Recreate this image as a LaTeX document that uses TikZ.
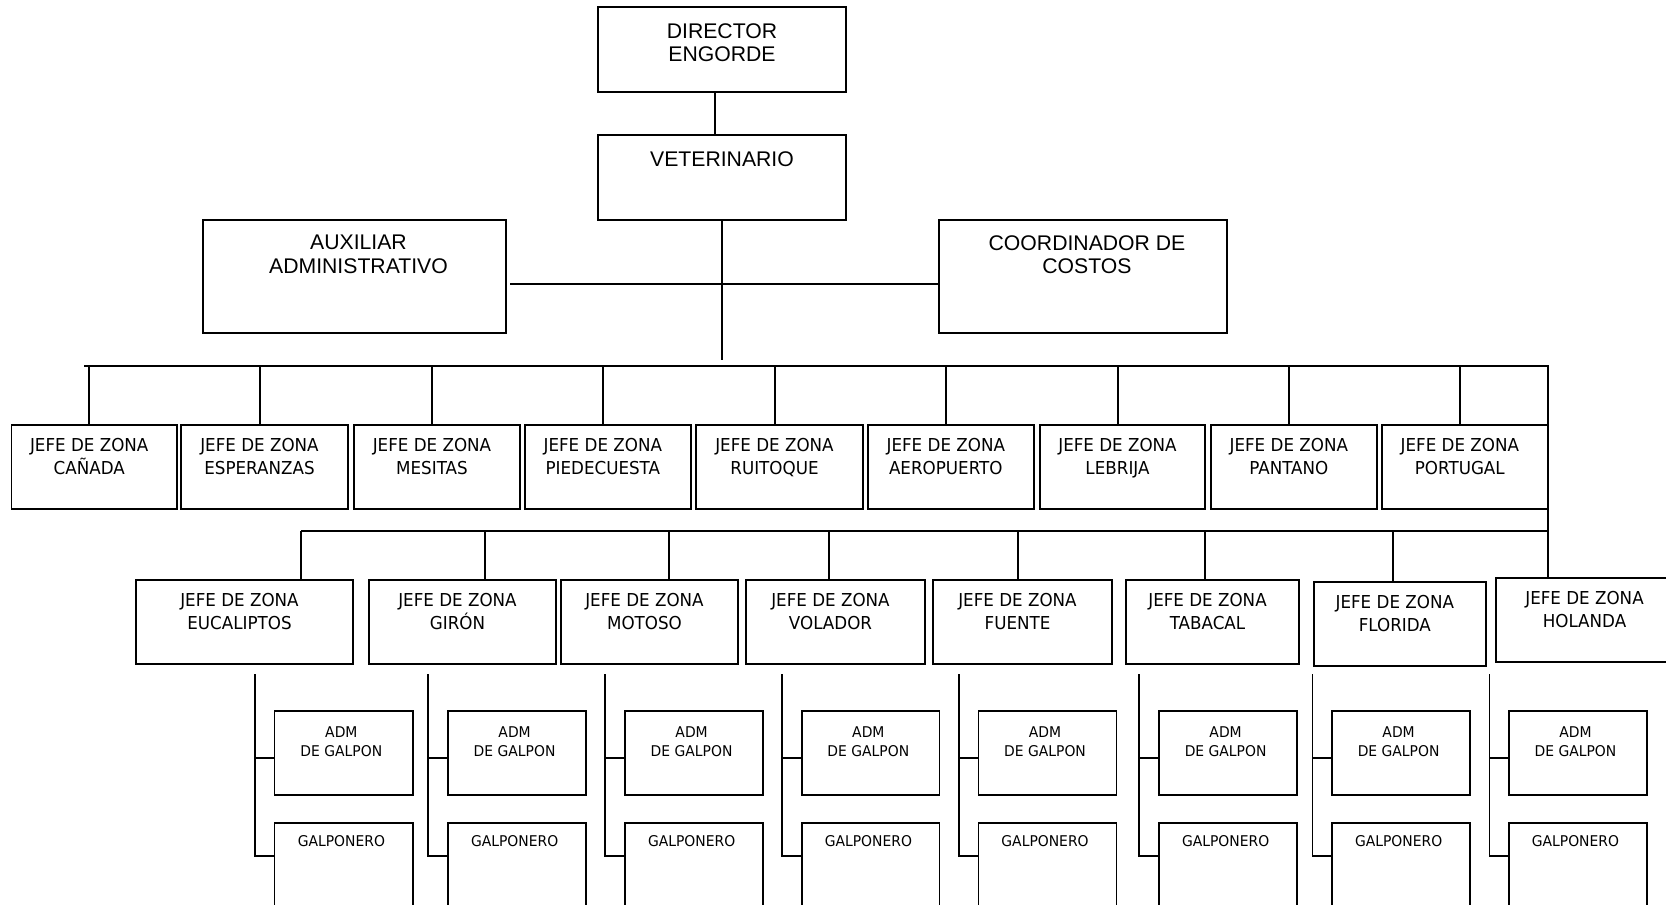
\documentclass[tikz,border=0pt]{standalone}
\usepackage{fontspec}
\setmainfont{Liberation Sans}
\newfontfamily\tahfont[FakeStretch=0.94]{DejaVu Sans}
\newcommand\obox[9]{%
  \node[boxst, minimum width={(#4-#2)*0.5pt}, minimum height={(#5-#3)*0.5pt}] (#1) at ({(#2+#4)/2},{(#3+#5)/2}) {};
  \node[#6, anchor=north] (#1-t) at ({(#2+#4)/2+#8},{#3+#7}) {#9};
}
\begin{document}
\begin{tikzpicture}[x=0.5pt,y=-0.5pt,
  boxst/.style={draw, rectangle, line width=0.9pt, inner sep=0pt, outer sep=0pt},
  connln/.style={line width=0.7pt},
  busln/.style={line width=1pt},
  topt/.style={font=\fontsize{10.6}{11.65}\selectfont, align=center, inner sep=0pt},
  jt/.style={font=\tahfont\fontsize{8.9}{11.35}\selectfont, align=center, inner sep=0pt},
  admt/.style={font=\tahfont\fontsize{7.4}{9.15}\selectfont, align=center, inner sep=0pt}]
\useasboundingbox (0,0) rectangle (1666,905);
\clip (0,0) rectangle (1666,905);
\fill[white] (0,0) rectangle (1666,905);

% top level
\obox{dir}{598}{7}{846}{92}{topt}{16}{0}{DIRECTOR\\ENGORDE}
\obox{vet}{598}{135}{846}{220}{topt}{16.5}{0}{VETERINARIO}
\obox{aux}{203}{220}{506}{333}{topt}{15}{4}{AUXILIAR\\ADMINISTRATIVO}
\obox{coord}{939}{220}{1227}{333}{topt}{15}{4}{COORDINADOR DE\\COSTOS}

\draw[connln] (dir.south -| 715,0) -- (vet.north -| 715,0);
\coordinate (vbot) at (722,360);
\draw[connln] (vet.south -| vbot) -- (vbot);
\coordinate (hl) at (510,284);
\draw[connln] (hl) -- (coord.west |- hl);

% row 1
\foreach \n/\a/\b/\t/\d in {1/11.5/177/CAÑADA/89, 2/181/348/ESPERANZAS/260, 3/354/520/MESITAS/432,
  4/525/690.6/PIEDECUESTA/603, 5/696/863/RUITOQUE/775, 6/868/1033.6/AEROPUERTO/946,
  7/1040/1205/LEBRIJA/1118, 8/1211/1376.6/PANTANO/1289, 9/1381.6/1548/PORTUGAL/1460}{
  \obox{j\n}{\a}{425}{\b}{509}{jt}{13.3}{-5}{JEFE DE ZONA\\\t}
  \draw[connln] (\d,366) -- (j\n.north -| \d,0);
}

% row 2
\foreach \n/\a/\b/\ya/\yb/\t/\d in {1/136/353/580/664/EUCALIPTOS/301, 2/369/556/580/664/GIRÓN/485,
  3/561/738/580/664/MOTOSO/669, 4/746/925/580/664/VOLADOR/829, 5/933/1112/580/664/FUENTE/1018,
  6/1126/1299/580/664/TABACAL/1205, 7/1313.6/1486/582/666/FLORIDA/1393}{
  \obox{k\n}{\a}{\ya}{\b}{\yb}{jt}{13.3}{-5}{JEFE DE ZONA\\\t}
  \draw[connln] (\d,531) -- (k\n.north -| \d,0);
}
\obox{hol}{1496}{577.7}{1683}{661.7}{jt}{13.3}{-5}{JEFE DE ZONA\\HOLANDA}

% buses
\coordinate (busL) at (84,366);
\coordinate (busR) at (1548,366);
\draw[busln] (busL) -- (busR) -- (hol.north -| busR);
\coordinate (bus2L) at (301,531);
\draw[busln] (bus2L) -- (bus2L -| busR);

% sub rows
\foreach \n/\v/\a/\b in {1/255/274.5/413, 2/428/448/586, 3/605/625/763, 4/782/802/939.5,
  5/959/978.5/1116.4, 6/1139/1159/1297, 7/1312.5/1332/1470, 8/1489.6/1509/1646.7}{
  \obox{a\n}{\a}{711}{\b}{795}{admt}{15.7}{-2.4}{ADM\\DE GALPON}
  \obox{g\n}{\a}{822.7}{\b}{960}{admt}{12.3}{-2.4}{GALPONERO}
  \coordinate (s\n) at (\v,674);
  \draw[connln] ([yshift=-16.6pt]g\n.north west) -| (s\n);
  \draw[connln] ([yshift=-2.5pt]a\n.west) -| (s\n);
}
\end{tikzpicture}
\end{document}
